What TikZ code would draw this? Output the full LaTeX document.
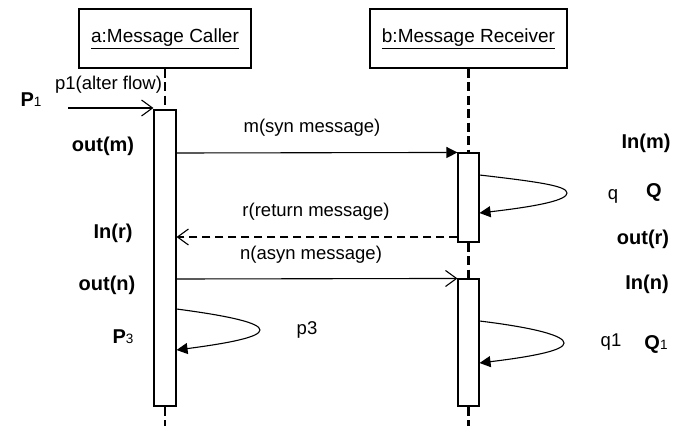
\documentclass[tikz,border=0pt]{standalone}
\usepackage{fontspec}
\setmainfont{Liberation Sans}
\usetikzlibrary{arrows.meta}
\tikzset{
  obj/.style={draw, line width=1.1pt, inner sep=0pt, minimum height=59pt, font=\fontsize{19}{22}\selectfont},
  act/.style={draw, fill=white, line width=1.1pt, inner sep=0pt, minimum width=22pt},
  life/.style={line width=2.2pt, dash pattern=on 9pt off 4.5pt},
  msg/.style={line width=1.1pt},
  lbl/.style={inner sep=0pt, font=\fontsize{18.5}{22}\selectfont},
  blbl/.style={inner sep=0pt, font=\fontsize{20}{24}\selectfont\bfseries},
  opent/.style={-{Straight Barb[length=11pt,width=16pt,line width=1.1pt]}},
  fillt/.style={-{Triangle[length=11pt,width=11pt]}},
}
\newcommand{\subx}[1]{{\fontsize{13.5}{13.5}\selectfont\mdseries #1}}
\begin{document}
\begin{tikzpicture}[x=1pt,y=-1pt]
\useasboundingbox (0,0) rectangle (688,426);
% objects
\node[obj, minimum width=172pt] (A) at (165,38.5) {\underline{a:Message Caller}};
\node[obj, minimum width=197pt] (B) at (468.5,38.5) {\underline{b:Message Receiver}};
% activations
\node[act, minimum height=296pt] (aa) at (165,258) {};
\node[act, minimum width=21pt, minimum height=89pt] (b1) at (468.5,197.5) {};
\node[act, minimum width=21pt, minimum height=127pt] (b2) at (468.5,342.5) {};
% lifelines
\coordinate (aend) at (165,426);
\coordinate (bend) at (468.5,426);
\draw[life] (A.south) -- (aa.north);
\draw[life] (aa.south) -- (aend);
\draw[life] (B.south) -- (b1.north);
\draw[life] (b1.south) -- (b2.north);
\draw[life] (b2.south) -- (bend);
% P1 message
\coordinate (p1s) at (68,108);
\draw[msg, opent] (p1s) -- (aa.west |- p1s);
% m
\draw[msg, fillt] (aa.east |- 0,153) -- (b1.north west);
% r return
\draw[msg, opent, dash pattern=on 8pt off 5pt, line width=1.6pt] (b1.west |- 0,237) -- (aa.east |- 0,237);
% n
\draw[msg, opent] (aa.east |- 0,279) -- (b2.north west);
% self loops
\draw[msg, fillt] (b1.east |- 0,175) .. controls (540,182) and (567,186) .. (567,193)
   .. controls (567,200) and (540,206) .. (b1.east |- 0,213);
\draw[msg, fillt] (aa.east |- 0,309) .. controls (230,316) and (260,323) .. (260,330)
   .. controls (260,337) and (230,343) .. (aa.east |- 0,350);
\draw[msg, fillt] (b2.east |- 0,321) .. controls (537,328) and (564,336) .. (564,343)
   .. controls (564,350) and (537,356) .. (b2.east |- 0,363);
% labels
\node[lbl] (lp1) at (108.5,85) {p1(alter flow)};
\node[blbl] (P1) at (31,100) {P\subx{1}};
\node[lbl] (lm) at (312,128) {m(syn message)};
\node[blbl] (om) at (103,146) {out(m)};
\node[blbl] (im) at (646,143) {In(m)};
\node[lbl] (lq) at (613,196) {q};
\node[blbl] (Q) at (654,192) {Q};
\node[lbl] (lr) at (316,212) {r(return message)};
\node[blbl] (ir) at (113,233) {In(r)};
\node[blbl] (or) at (643,239) {out(r)};
\node[lbl] (ln) at (311,255) {n(asyn message)};
\node[blbl] (on) at (107,285) {out(n)};
\node[blbl] (inn) at (647,284) {In(n)};
\node[lbl] (lp3) at (307,330) {p3};
\node[blbl] (P3) at (123,337) {P\subx{3}};
\node[lbl] (lq1) at (611,342) {q1};
\node[blbl] (Q1) at (656,344) {Q\subx{1}};
\end{tikzpicture}
\end{document}
